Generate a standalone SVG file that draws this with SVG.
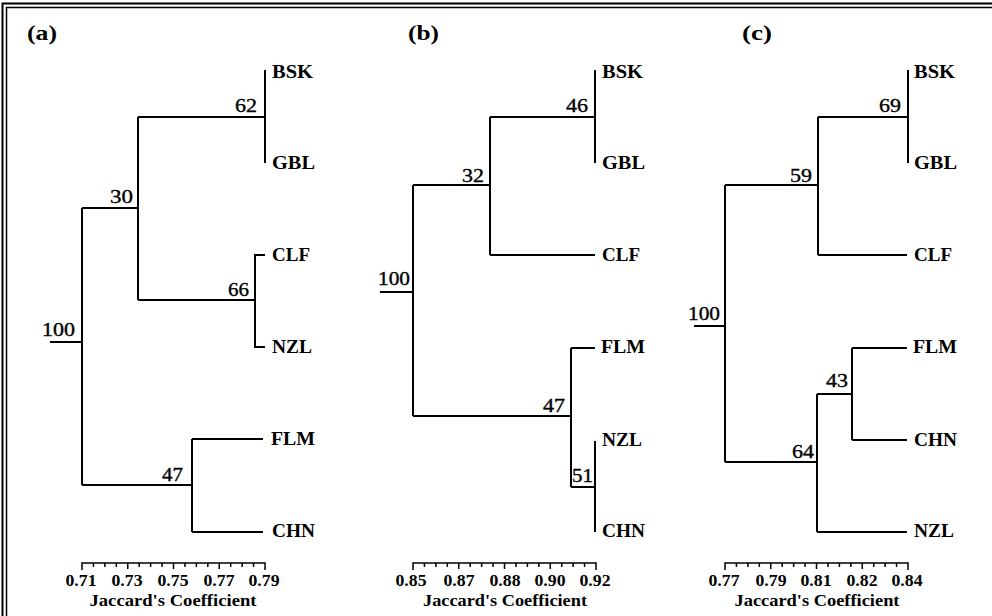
<svg xmlns="http://www.w3.org/2000/svg" xmlns:xlink="http://www.w3.org/1999/xlink" width="992" height="616" viewBox="0 0 992 616">
<style>
  text { font-family: "Liberation Serif", "Times New Roman", serif; fill: #000; }
  .panel { font-size: 21px; font-weight: bold; }
  .leaf { font-size: 18.5px; font-weight: bold; }
  .sup { font-size: 18.5px; text-anchor: end; stroke: #000; stroke-width: 0.35; }
  .tick { font-size: 17px; font-weight: bold; text-anchor: middle; }
  .axt { font-size: 16.5px; font-weight: bold; text-anchor: middle; }
  .br { fill: none; stroke: #000; stroke-width: 2; }
  .ax { fill: none; stroke: #000; stroke-width: 1.5; }
  .frame { fill: none; stroke: #000; }
</style>
<defs>
  <g id="axis">
    <path class="ax" d="M0,0H183 M0,-0.7v7.7 M11.44,0v4 M22.88,0v4 M34.31,0v4 M45.75,0v6 M57.19,0v4 M68.63,0v4 M80.06,0v4 M91.5,0v6 M102.94,0v4 M114.38,0v4 M125.81,0v4 M137.25,0v6 M148.69,0v4 M160.13,0v4 M171.56,0v4 M183,-0.7v7.7"/>
  </g>
</defs>
<rect width="992" height="616" fill="#fff"/>
<g id="frame">
  <rect class="frame" x="2.5" y="3.5" width="1000" height="640" stroke-width="2"/>
  <rect class="frame" x="6.5" y="7.5" width="1000" height="640" stroke-width="1.5"/>
</g>

<!-- Panel (a) -->
<g id="panel-a">
  <text class="panel" x="27" y="40" textLength="30" lengthAdjust="spacingAndGlyphs">(a)</text>
  <g id="a-connectors">
    <path class="br" d="M265,70V163 M138,117H265 M138,117V300 M138,300H255 M265,255H255V347H265 M82,208H138 M82,208V485 M50,342H82 M82,485H192 M192,439V532 M192,439H263 M192,532H263"/>
  </g>
  <g id="a-BSK"><text class="leaf" x="272" y="78" textLength="41" lengthAdjust="spacingAndGlyphs">BSK</text></g>
  <g id="a-GBL"><text class="leaf" x="272" y="169" textLength="43" lengthAdjust="spacingAndGlyphs">GBL</text></g>
  <g id="a-CLF"><text class="leaf" x="272" y="261" textLength="38" lengthAdjust="spacingAndGlyphs">CLF</text></g>
  <g id="a-NZL"><text class="leaf" x="272" y="353" textLength="40" lengthAdjust="spacingAndGlyphs">NZL</text></g>
  <g id="a-FLM"><text class="leaf" x="271" y="445" textLength="44" lengthAdjust="spacingAndGlyphs">FLM</text></g>
  <g id="a-CHN"><text class="leaf" x="272" y="537" textLength="43" lengthAdjust="spacingAndGlyphs">CHN</text></g>
  <g id="a-support">
    <text class="sup" x="257" y="112" textLength="22" lengthAdjust="spacingAndGlyphs">62</text>
    <text class="sup" x="133" y="203" textLength="23" lengthAdjust="spacingAndGlyphs">30</text>
    <text class="sup" x="249" y="296" textLength="21" lengthAdjust="spacingAndGlyphs">66</text>
    <text class="sup" x="75" y="336" textLength="33" lengthAdjust="spacingAndGlyphs">100</text>
    <text class="sup" x="183" y="481" textLength="21" lengthAdjust="spacingAndGlyphs">47</text>
  </g>
  <g id="a-axis">
    <use xlink:href="#axis" transform="translate(82,563)"/>
    <text class="tick" x="81" y="586" textLength="31" lengthAdjust="spacingAndGlyphs">0.71</text>
    <text class="tick" x="127" y="586" textLength="31" lengthAdjust="spacingAndGlyphs">0.73</text>
    <text class="tick" x="173" y="586" textLength="31" lengthAdjust="spacingAndGlyphs">0.75</text>
    <text class="tick" x="219" y="586" textLength="31" lengthAdjust="spacingAndGlyphs">0.77</text>
    <text class="tick" x="264" y="586" textLength="31" lengthAdjust="spacingAndGlyphs">0.79</text>
    <text class="axt" x="173" y="606" textLength="167" lengthAdjust="spacingAndGlyphs">Jaccard's Coefficient</text>
  </g>
</g>

<!-- Panel (b) -->
<g id="panel-b">
  <text class="panel" x="408" y="40" textLength="31" lengthAdjust="spacingAndGlyphs">(b)</text>
  <g id="b-connectors">
    <path class="br" d="M595,70V163 M490,117H595 M490,117V255 M490,255H595 M413,185H490 M413,185V416 M380,292H413 M413,416H571 M571,348V487 M571,348H595 M571,487H595 M595,441V532"/>
  </g>
  <g id="b-BSK"><text class="leaf" x="602" y="78" textLength="41" lengthAdjust="spacingAndGlyphs">BSK</text></g>
  <g id="b-GBL"><text class="leaf" x="602" y="169" textLength="43" lengthAdjust="spacingAndGlyphs">GBL</text></g>
  <g id="b-CLF"><text class="leaf" x="602" y="261" textLength="38" lengthAdjust="spacingAndGlyphs">CLF</text></g>
  <g id="b-FLM"><text class="leaf" x="601" y="353" textLength="44" lengthAdjust="spacingAndGlyphs">FLM</text></g>
  <g id="b-NZL"><text class="leaf" x="602" y="446" textLength="40" lengthAdjust="spacingAndGlyphs">NZL</text></g>
  <g id="b-CHN"><text class="leaf" x="602" y="537" textLength="43" lengthAdjust="spacingAndGlyphs">CHN</text></g>
  <g id="b-support">
    <text class="sup" x="588" y="112" textLength="22" lengthAdjust="spacingAndGlyphs">46</text>
    <text class="sup" x="484" y="182" textLength="22" lengthAdjust="spacingAndGlyphs">32</text>
    <text class="sup" x="410" y="285" textLength="32" lengthAdjust="spacingAndGlyphs">100</text>
    <text class="sup" x="565" y="412" textLength="22" lengthAdjust="spacingAndGlyphs">47</text>
    <text class="sup" x="593" y="482" textLength="21" lengthAdjust="spacingAndGlyphs">51</text>
  </g>
  <g id="b-axis">
    <use xlink:href="#axis" transform="translate(413,563)"/>
    <text class="tick" x="411" y="586" textLength="31" lengthAdjust="spacingAndGlyphs">0.85</text>
    <text class="tick" x="459" y="586" textLength="31" lengthAdjust="spacingAndGlyphs">0.87</text>
    <text class="tick" x="505" y="586" textLength="31" lengthAdjust="spacingAndGlyphs">0.88</text>
    <text class="tick" x="550" y="586" textLength="31" lengthAdjust="spacingAndGlyphs">0.90</text>
    <text class="tick" x="595" y="586" textLength="31" lengthAdjust="spacingAndGlyphs">0.92</text>
    <text class="axt" x="505" y="606" textLength="164" lengthAdjust="spacingAndGlyphs">Jaccard's Coefficient</text>
  </g>
</g>

<!-- Panel (c) -->
<g id="panel-c">
  <text class="panel" x="742" y="40" textLength="30" lengthAdjust="spacingAndGlyphs">(c)</text>
  <g id="c-connectors">
    <path class="br" d="M908,70V163 M818,117H908 M818,117V255 M818,255H907 M725,185H818 M725,185V462 M694,326H725 M725,462H817 M817,394V532 M817,532H907 M817,394H852 M852,348V440 M852,348H907 M852,440H907"/>
  </g>
  <g id="c-BSK"><text class="leaf" x="914" y="78" textLength="41" lengthAdjust="spacingAndGlyphs">BSK</text></g>
  <g id="c-GBL"><text class="leaf" x="914" y="169" textLength="43" lengthAdjust="spacingAndGlyphs">GBL</text></g>
  <g id="c-CLF"><text class="leaf" x="914" y="261" textLength="38" lengthAdjust="spacingAndGlyphs">CLF</text></g>
  <g id="c-FLM"><text class="leaf" x="913" y="353" textLength="44" lengthAdjust="spacingAndGlyphs">FLM</text></g>
  <g id="c-CHN"><text class="leaf" x="914" y="446" textLength="43" lengthAdjust="spacingAndGlyphs">CHN</text></g>
  <g id="c-NZL"><text class="leaf" x="914" y="537" textLength="40" lengthAdjust="spacingAndGlyphs">NZL</text></g>
  <g id="c-support">
    <text class="sup" x="901" y="112" textLength="22" lengthAdjust="spacingAndGlyphs">69</text>
    <text class="sup" x="812" y="182" textLength="22" lengthAdjust="spacingAndGlyphs">59</text>
    <text class="sup" x="720" y="320" textLength="32" lengthAdjust="spacingAndGlyphs">100</text>
    <text class="sup" x="848" y="387" textLength="22" lengthAdjust="spacingAndGlyphs">43</text>
    <text class="sup" x="814" y="458" textLength="22" lengthAdjust="spacingAndGlyphs">64</text>
  </g>
  <g id="c-axis">
    <use xlink:href="#axis" transform="translate(725,563)"/>
    <text class="tick" x="724" y="586" textLength="31" lengthAdjust="spacingAndGlyphs">0.77</text>
    <text class="tick" x="771" y="586" textLength="31" lengthAdjust="spacingAndGlyphs">0.79</text>
    <text class="tick" x="816" y="586" textLength="31" lengthAdjust="spacingAndGlyphs">0.81</text>
    <text class="tick" x="862" y="586" textLength="31" lengthAdjust="spacingAndGlyphs">0.82</text>
    <text class="tick" x="907" y="586" textLength="31" lengthAdjust="spacingAndGlyphs">0.84</text>
    <text class="axt" x="817" y="606" textLength="165" lengthAdjust="spacingAndGlyphs">Jaccard's Coefficient</text>
  </g>
</g>
</svg>
